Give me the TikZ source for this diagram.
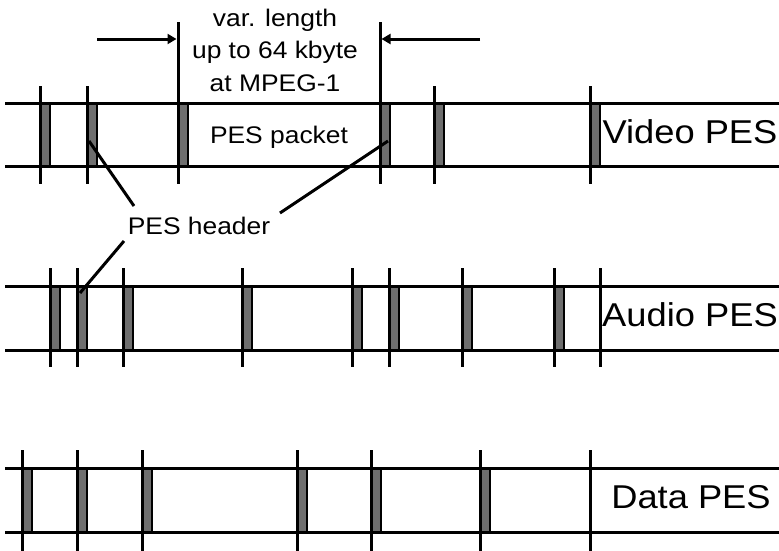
\documentclass[tikz,border=0pt]{standalone}
\usepackage{fontspec}
\setmainfont{Liberation Sans}[FakeStretch=1.1]
\usetikzlibrary{arrows.meta}
\definecolor{hdrgray}{RGB}{110,110,110}
\begin{document}
\begin{tikzpicture}[x=1pt,y=-1pt,
  rail/.style={line width=3pt},
  tickline/.style={line width=3pt},
  hdr/.style={fill=hdrgray,draw=black,line width=2.5pt},
  lab/.style={font=\fontsize{24}{30}\selectfont, inner sep=0pt, anchor=base},
  rowlab/.style={font=\fontsize{33}{40}\selectfont, inner sep=0pt, anchor=base},
  lead/.style={line width=3pt},
  dimarrow/.style={line width=3pt,-{Triangle[length=9pt,width=10pt]}}
]
\useasboundingbox (0,0) rectangle (779,550);

% ---------- Video PES row ----------
\foreach \x in {40,87,178,380,434,590}{
  \filldraw[hdr] (\x,103) rectangle ({\x+10},166);
}
\draw[rail] (5,103) -- (779,103);
\draw[rail] (5,166) -- (779,166);
\foreach \x in {40,87,434,590}{
  \draw[tickline] (\x,86) -- (\x,184);
}
\draw[tickline] (178,22) -- (178,184);
\draw[tickline] (380,22) -- (380,184);

% ---------- Audio PES row ----------
\foreach \x in {50,77,123,242,352,389,462,554}{
  \filldraw[hdr] (\x,286) rectangle ({\x+10},350);
}
\draw[rail] (5,286) -- (779,286);
\draw[rail] (5,350) -- (779,350);
\foreach \x in {50,77,123,242,352,389,462,554,600}{
  \draw[tickline] (\x,268) -- (\x,367);
}

% ---------- Data PES row ----------
\foreach \x in {22,77,142,297,371,480}{
  \filldraw[hdr] (\x,468) rectangle ({\x+10},532);
}
\draw[rail] (5,468) -- (779,468);
\draw[rail] (5,532) -- (779,532);
\foreach \x in {22,77,142,297,371,480,590}{
  \draw[tickline] (\x,450) -- (\x,552);
}

% ---------- labels ----------
\node[lab] (vl1) at (275,26) {var. length};
\node[lab] (vl2) at (275,58) {up to 64 kbyte};
\node[lab] (vl3) at (275,91) {at MPEG-1};
\node[lab] (pkt) at (279,143) {PES packet};
\node[lab] (hdrlab) at (199,234) {PES header};
\node[rowlab] (vpes) at (690,143) {Video PES};
\node[rowlab] (apes) at (690,326) {Audio PES};
\node[rowlab] (dpes) at (691,508) {Data PES};

% ---------- length arrows ----------
\coordinate (arLs) at (97,39);
\coordinate (arLe) at (176.5,39);
\coordinate (arRs) at (480,39);
\coordinate (arRe) at (381.5,39);
\draw[dimarrow] (arLs) -- (arLe);
\draw[dimarrow] (arRs) -- (arRe);

% ---------- PES header leaders ----------
\coordinate (hv1) at (89,141);
\coordinate (hl1) at (134,206);
\coordinate (hv2) at (388,141);
\coordinate (hl2) at (280,213);
\coordinate (hl3) at (124,241);
\coordinate (ha1) at (80,293);
\draw[lead] (hv1) -- (hl1);
\draw[lead] (hv2) -- (hl2);
\draw[lead] (hl3) -- (ha1);
\end{tikzpicture}
\end{document}
